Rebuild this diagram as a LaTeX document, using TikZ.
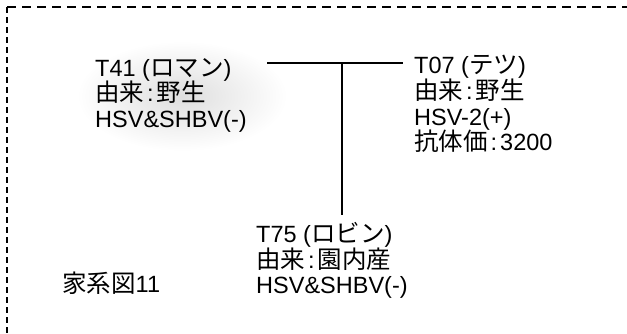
\documentclass[tikz,border=0pt]{standalone}
\usepackage{fontspec}
\setmainfont{Liberation Sans}
\newfontfamily\jpfont{Noto Sans CJK JP}
\newcommand{\J}[1]{{\jpfont\fontsize{24.5}{25.5}\selectfont #1}}
\newcommand{\cln}{\hspace{3pt}:\hspace{3pt}}
\begin{document}
\begin{tikzpicture}[x=1pt,y=-1pt,
  txt/.style={font=\fontsize{23.5}{25.7}\selectfont, align=left, inner sep=0pt, anchor=north west},
  frametop/.style={line width=1.6pt, dash pattern=on 9pt off 6pt},
  frameleft/.style={line width=1.8pt, dash pattern=on 6pt off 4pt},
  link/.style={line width=1.8pt}]
\useasboundingbox (0,0) rectangle (627,334);
% light shading behind T41
\shade[inner color=black!13, outer color=white] (182,96) ellipse [x radius=105, y radius=55];
% frame
\coordinate (ftl) at (7,7);
\coordinate (ftr) at (627,7);
\coordinate (fbl) at (7,334);
\draw[frametop] (ftl) -- (ftr);
\draw[frameleft] (ftl) -- (fbl);
% nodes
\node[txt] (t41) at (95,58) {T41 (\J{ロマン})\\\J{由来}\cln\J{野生}\\HSV\&SHBV(-)};
\node[txt] (t07) at (414,55) {T07 (\J{テツ})\\\J{由来}\cln\J{野生}\\HSV-2(+)\\\J{抗体価}\cln 3200};
\node[txt] (t75) at (256,222) {T75 (\J{ロビン})\\\J{由来}\cln\J{園内産}\\HSV\&SHBV(-)};
\node[txt] (kakei) at (62,272) {\J{家系図}11};
% connectors
\coordinate (hl) at (267,63);
\coordinate (hr) at (403,63);
\coordinate (junc) at (342,63);
\draw[line width=1.5pt] (hl) -- (hr);
\draw[link] (junc) -- ([yshift=7pt]t75.north -| junc);
\end{tikzpicture}
\end{document}
